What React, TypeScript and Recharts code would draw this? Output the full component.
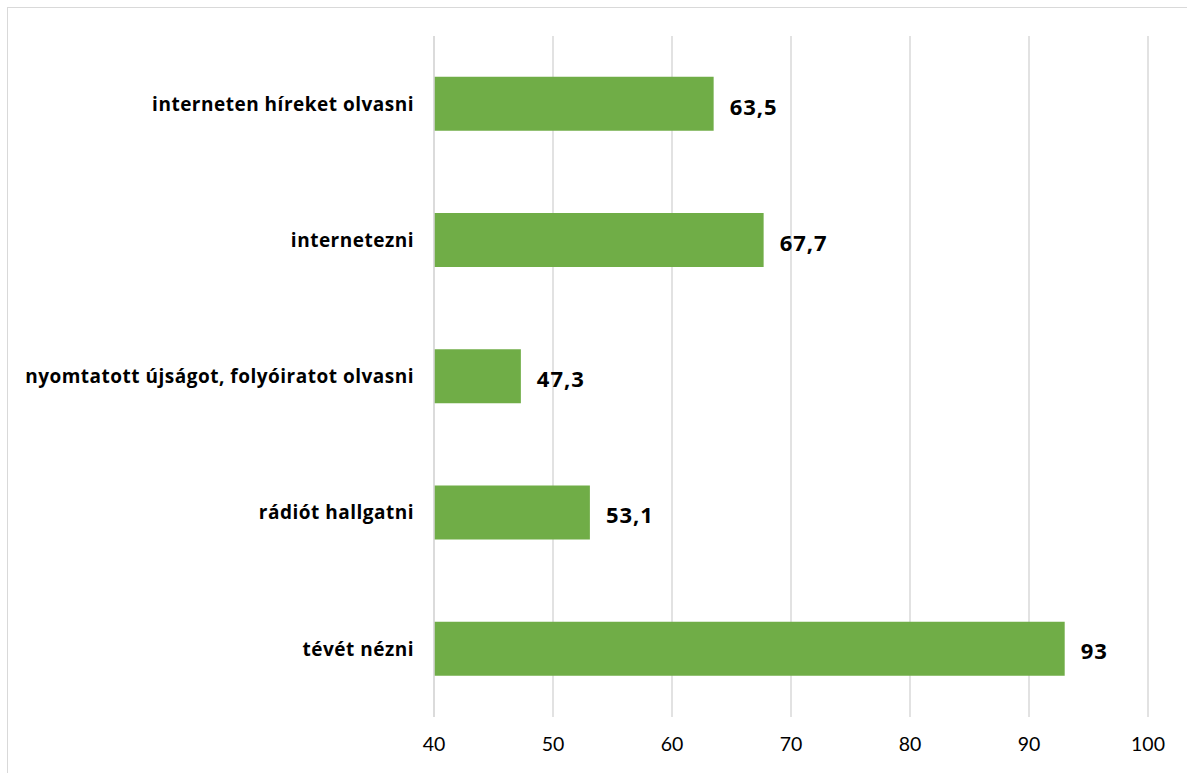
import React from 'react';
import { BarChart, Bar, XAxis, YAxis, CartesianGrid, LabelList } from 'recharts';

const categories = [
  'interneten híreket olvasni',
  'internetezni',
  'nyomtatott újságot, folyóiratot olvasni',
  'rádiót hallgatni',
  'tévét nézni',
];
const values = [63.5, 67.7, 47.3, 53.1, 93];
const xTicks = [40, 50, 60, 70, 80, 90, 100];

const data = categories.map((name, i) => ({ name, value: values[i] }));

const fmt = (v: any) => String(v).replace('.', ',');

export default function App() {
  return (
    <div style={{ position: 'absolute', left: 0, top: 0, width: 1187, height: 773, background: '#fff', overflow: 'hidden' }}>
      <style>{`body{margin:0;overflow:hidden;}`}</style>
      <div style={{ position: 'absolute', left: 7, top: 7, width: 1300, height: 900, border: '1px solid #d9d9d9', boxSizing: 'border-box' }} />
      <div style={{ position: 'absolute', left: 0, top: 0 }}>
        <BarChart
          width={1187}
          height={773}
          data={data}
          layout="vertical"
          margin={{ top: 36, right: 39, bottom: 0, left: 0 }}
          barCategoryGap="30%"
        >
          <CartesianGrid horizontal={false} vertical={true} stroke="#d9d9d9" strokeWidth={1.5} />
          <XAxis
            type="number"
            domain={[40, 100]}
            ticks={xTicks}
            axisLine={false}
            tickLine={false}
            height={56}
            tickMargin={14}
            tick={{ fontFamily: 'Lato', fontSize: 19.5, fill: '#000' }}
          />
          <YAxis
            type="category"
            dataKey="name"
            width={434}
            axisLine={{ stroke: '#d9d9d9', strokeWidth: 1.5 }}
            tickLine={false}
            tickMargin={14}
            tick={{ fontFamily: 'Open Sans', fontSize: 19, fontWeight: 700, fill: '#000', letterSpacing: 0.5 }}
          />
          <Bar dataKey="value" fill="#70AD47" isAnimationActive={false}>
            <LabelList
              dataKey="value"
              position="right"
              offset={16}
              dy={3}
              formatter={fmt}
              style={{ fontFamily: 'Open Sans', fontSize: 22, fontWeight: 700, fill: '#000', letterSpacing: 1 }}
            />
          </Bar>
        </BarChart>
      </div>
    </div>
  );
}
